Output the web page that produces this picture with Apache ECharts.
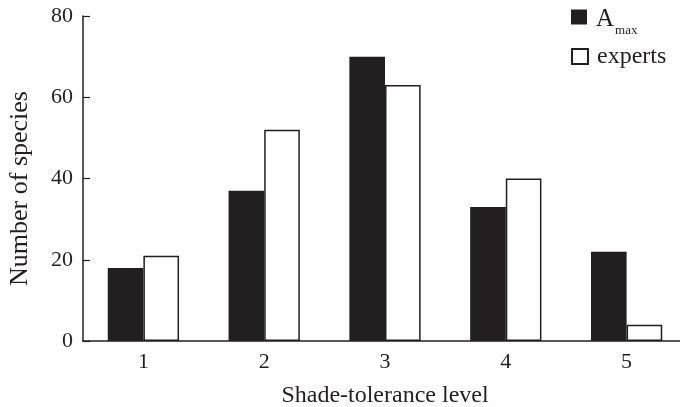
<!DOCTYPE html>
<html>
<head>
<meta charset="utf-8">
<script src="https://cdn.jsdelivr.net/npm/echarts@6/dist/echarts.min.js"></script>
<style>html,body{margin:0;padding:0;background:#fff}#c{width:680px;height:407px}</style>
</head>
<body>
<div id="c"></div>
<script>
var categories = ['1', '2', '3', '4', '5'];
var amax = [18, 37, 70, 33, 22];
var experts = [21, 52, 63, 40, 4];
var yTicks = [0, 20, 40, 60, 80];

var FONT = 'Liberation Serif';
var INK = '#231f20';

var chart = echarts.init(document.getElementById('c'), null, {renderer: 'canvas'});
chart.setOption({
  animation: false,
  backgroundColor: '#fff',
  grid: {left: 83, right: -7, top: 16, bottom: 66, containLabel: false, outerBoundsMode: 'none'},
  legend: [
    {
      data: ['Amax'], left: 571, top: -3.5, orient: 'vertical', padding: 0,
      icon: 'rect', itemWidth: 16, itemHeight: 15, itemGap: 0,
      formatter: function () { return '{a|A}{s|max}'; },
      textStyle: {
        fontFamily: FONT, color: INK,
        rich: {
          a: {fontFamily: FONT, fontSize: 25, lineHeight: 25, color: INK, verticalAlign: 'middle', padding: [4, 0, 0, 4]},
          s: {fontFamily: FONT, fontSize: 13, lineHeight: 14, color: INK, verticalAlign: 'middle', padding: [28, 0, 0, 1]}
        }
      }
    },
    {
      data: ['experts'], left: 571, top: 44.5, orient: 'vertical', padding: 0,
      icon: 'rect', itemWidth: 16, itemHeight: 15,
      textStyle: {fontFamily: FONT, fontSize: 24, color: INK, padding: [0, 0, 0, 4]}
    }
  ],
  xAxis: {
    type: 'category',
    data: categories,
    name: 'Shade-tolerance level',
    nameLocation: 'middle',
    nameGap: 43,
    nameTextStyle: {fontFamily: FONT, fontSize: 24, color: INK},
    axisLine: {lineStyle: {color: INK, width: 1.5}},
    axisTick: {inside: true, length: 7, lineStyle: {color: INK, width: 1.2}},
    axisLabel: {fontFamily: FONT, fontSize: 22, color: INK, margin: 10},
    splitLine: {show: false}
  },
  yAxis: {
    type: 'value',
    min: yTicks[0], max: yTicks[yTicks.length - 1], interval: 20,
    name: 'Number of species',
    nameLocation: 'middle',
    nameGap: 50,
    nameTextStyle: {fontFamily: FONT, fontSize: 26, color: INK, padding: [0, 20, 0, 0]},
    axisLine: {show: true, lineStyle: {color: INK, width: 1.5}},
    axisTick: {show: true, inside: true, length: 7, lineStyle: {color: INK, width: 1.2}},
    axisLabel: {fontFamily: FONT, fontSize: 22, color: INK, margin: 10},
    splitLine: {show: false}
  },
  series: [
    {
      name: 'Amax', type: 'bar', data: amax,
      barGap: '0%', barCategoryGap: '41%',
      itemStyle: {color: INK}
    },
    {
      name: 'experts', type: 'bar', data: experts,
      itemStyle: {color: '#ffffff', borderColor: INK, borderWidth: 1.5}
    }
  ]
});
</script>
</body>
</html>
